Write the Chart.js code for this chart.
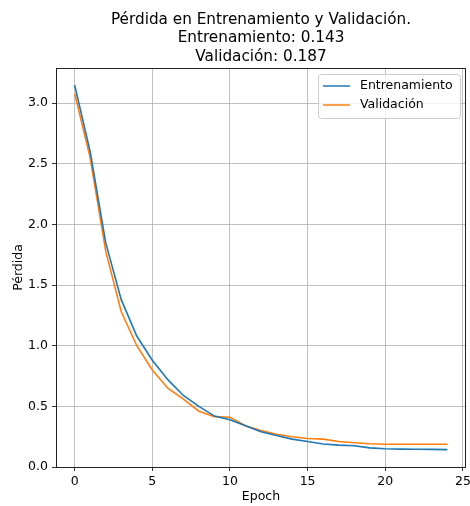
<!DOCTYPE html>
<html><head><meta charset="utf-8">
<script src="https://cdn.jsdelivr.net/npm/chart.js@4.4.0/dist/chart.umd.min.js"></script>
<style>html,body{margin:0;padding:0;background:#fff}</style></head>
<body><canvas id="c" width="470" height="506"></canvas>
<script>
const epochs = [0,1,2,3,4,5,6,7,8,9,10,11,12,13,14,15,16,17,18,19,20,21,22,23,24];
const trainLoss = [3.15,2.60,1.85,1.38,1.08,0.88,0.72,0.59,0.50,0.42,0.39,0.34,0.29,0.26,0.23,0.21,0.19,0.18,0.175,0.158,0.150,0.147,0.146,0.145,0.143];
const valLoss = [3.08,2.55,1.78,1.28,1.00,0.80,0.65,0.56,0.46,0.415,0.41,0.34,0.30,0.27,0.25,0.235,0.23,0.21,0.20,0.192,0.188,0.187,0.187,0.187,0.187];
const xTicks = [0,5,10,15,20,25];
const yTicks = [0,0.5,1.0,1.5,2.0,2.5,3.0];
const seriesNames = ['Entrenamiento','Validación'];
const titleLines = ['Pérdida en Entrenamiento y Validación.','Entrenamiento: 0.143','Validación: 0.187'];
const xLabel = 'Epoch';
const yLabel = 'Pérdida';

const FONT = 'DejaVu Sans';

const frameAndTitle = {
  id: 'frameAndTitle',
  afterDatasetsDraw(chart) {
    const ctx = chart.ctx, a = chart.chartArea;
    ctx.save();
    ctx.strokeStyle = '#222';
    ctx.lineWidth = 1;
    ctx.strokeRect(Math.round(a.left) + 0.5, Math.round(a.top) + 0.5, Math.round(a.right - a.left) - 1, Math.round(a.bottom - a.top));
    // legend
    const bx = 318.5, by = 74.5, bw = 142, bh = 44, r = 3;
    ctx.beginPath();
    ctx.moveTo(bx + r, by);
    ctx.arcTo(bx + bw, by, bx + bw, by + bh, r);
    ctx.arcTo(bx + bw, by + bh, bx, by + bh, r);
    ctx.arcTo(bx, by + bh, bx, by, r);
    ctx.arcTo(bx, by, bx + bw, by, r);
    ctx.closePath();
    ctx.fillStyle = 'rgba(255,255,255,0.8)';
    ctx.fill();
    ctx.strokeStyle = '#cccccc';
    ctx.stroke();
    chart.data.datasets.forEach((ds, i) => {
      const y = 86 + i * 19;
      ctx.beginPath();
      ctx.strokeStyle = ds.borderColor;
      ctx.lineWidth = 1.5;
      ctx.moveTo(323, y); ctx.lineTo(350, y);
      ctx.stroke();
      ctx.fillStyle = '#000';
      ctx.font = '12.5px "' + FONT + '"';
      ctx.textAlign = 'left';
      ctx.textBaseline = 'middle';
      ctx.fillText(ds.label, 360, y);
    });
    // title
    ctx.font = '15.25px "' + FONT + '"';
    ctx.textAlign = 'center';
    ctx.textBaseline = 'middle';
    ctx.fillStyle = '#000';
    const cx = (a.left + a.right) / 2;
    titleLines.forEach((t, i) => ctx.fillText(t, cx, 20 + i * 18.5));
    ctx.restore();
  }
};

new Chart(document.getElementById('c'), {
  type: 'line',
  data: {
    datasets: [
      { label: seriesNames[0], data: epochs.map((e, i) => ({x: e, y: trainLoss[i]})), borderColor: '#1f77b4', borderWidth: 1.6, pointRadius: 0, tension: 0, fill: false },
      { label: seriesNames[1], data: epochs.map((e, i) => ({x: e, y: valLoss[i]})), borderColor: '#ff7f0e', borderWidth: 1.6, pointRadius: 0, tension: 0, fill: false }
    ]
  },
  options: {
    responsive: false,
    animation: false,
    devicePixelRatio: 1,
    layout: { padding: { top: 68, right: 4, left: 0, bottom: 0 } },
    plugins: { legend: { display: false }, title: { display: false }, tooltip: { enabled: false } },
    scales: {
      x: {
        type: 'linear', min: -1.2, max: 25.2,
        afterBuildTicks: s => { s.ticks = xTicks.map(v => ({value: v})); },
        afterFit: s => { s.height = 39; s.paddingLeft = 0; s.paddingRight = 0; },
        grid: { color: '#b0b0b0', lineWidth: 0.8, tickColor: '#000', tickLength: 4, drawTicks: true },
        border: { display: false },
        ticks: { color: '#000', font: { family: FONT, size: 12.5 }, padding: 3, maxRotation: 0, callback: v => String(v) },
        title: { display: true, text: xLabel, color: '#000', font: { family: FONT, size: 12.5 }, padding: { top: 0, bottom: 2 } }
      },
      y: {
        type: 'linear', min: 0, max: 3.29,
        afterBuildTicks: s => { s.ticks = yTicks.map(v => ({value: v})); },
        afterFit: s => { s.width = 56; s.paddingTop = 0; s.paddingBottom = 0; },
        grid: { color: '#b0b0b0', lineWidth: 0.8, tickColor: '#000', tickLength: 4, drawTicks: true },
        border: { display: false },
        ticks: { color: '#000', font: { family: FONT, size: 12.5 }, padding: 4, callback: v => v.toFixed(1) },
        title: { display: true, text: yLabel, color: '#000', font: { family: FONT, size: 12.5 }, padding: { top: 11, bottom: 0 } }
      }
    }
  },
  plugins: [frameAndTitle]
});
</script></body></html>
